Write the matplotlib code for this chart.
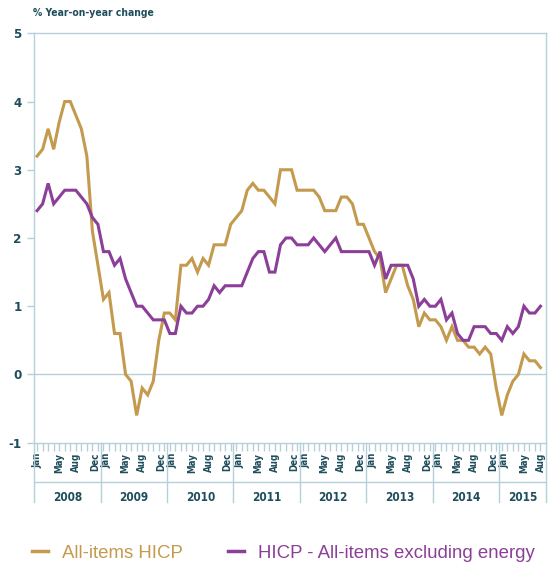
import matplotlib
matplotlib.use("Agg")
import matplotlib.pyplot as plt
import matplotlib.transforms as mtransforms
from matplotlib.lines import Line2D

# monthly data, Jan 2008 - Aug 2015
hicp_all = [
    3.2, 3.3, 3.6, 3.3, 3.7, 4.0, 4.0, 3.8, 3.6, 3.2, 2.1, 1.6,     # 2008
    1.1, 1.2, 0.6, 0.6, 0.0, -0.1, -0.6, -0.2, -0.3, -0.1, 0.5, 0.9,  # 2009
    0.9, 0.8, 1.6, 1.6, 1.7, 1.5, 1.7, 1.6, 1.9, 1.9, 1.9, 2.2,     # 2010
    2.3, 2.4, 2.7, 2.8, 2.7, 2.7, 2.6, 2.5, 3.0, 3.0, 3.0, 2.7,     # 2011
    2.7, 2.7, 2.7, 2.6, 2.4, 2.4, 2.4, 2.6, 2.6, 2.5, 2.2, 2.2,     # 2012
    2.0, 1.8, 1.7, 1.2, 1.4, 1.6, 1.6, 1.3, 1.1, 0.7, 0.9, 0.8,     # 2013
    0.8, 0.7, 0.5, 0.7, 0.5, 0.5, 0.4, 0.4, 0.3, 0.4, 0.3, -0.2,    # 2014
    -0.6, -0.3, -0.1, 0.0, 0.3, 0.2, 0.2, 0.1,                      # 2015
]
hicp_ex_energy = [
    2.4, 2.5, 2.8, 2.5, 2.6, 2.7, 2.7, 2.7, 2.6, 2.5, 2.3, 2.2,     # 2008
    1.8, 1.8, 1.6, 1.7, 1.4, 1.2, 1.0, 1.0, 0.9, 0.8, 0.8, 0.8,     # 2009
    0.6, 0.6, 1.0, 0.9, 0.9, 1.0, 1.0, 1.1, 1.3, 1.2, 1.3, 1.3,     # 2010
    1.3, 1.3, 1.5, 1.7, 1.8, 1.8, 1.5, 1.5, 1.9, 2.0, 2.0, 1.9,     # 2011
    1.9, 1.9, 2.0, 1.9, 1.8, 1.9, 2.0, 1.8, 1.8, 1.8, 1.8, 1.8,     # 2012
    1.8, 1.6, 1.8, 1.4, 1.6, 1.6, 1.6, 1.6, 1.4, 1.0, 1.1, 1.0,     # 2013
    1.0, 1.1, 0.8, 0.9, 0.6, 0.5, 0.5, 0.7, 0.7, 0.7, 0.6, 0.6,     # 2014
    0.5, 0.7, 0.6, 0.7, 1.0, 0.9, 0.9, 1.0,                         # 2015
]
years = ["2008", "2009", "2010", "2011", "2012", "2013", "2014", "2015"]
month_labels = {0: "Jan", 4: "May", 7: "Aug", 11: "Dec"}
series_names = ["All-items HICP", "HICP - All-items excluding energy"]

gold = "#C39A4E"
purple = "#8C3F98"
teal = "#1E4D5C"
axis_blue = "#B7CFD8"
cond = dict(family="DejaVu Sans", stretch="condensed", fontweight="bold", color=teal)

n = len(hicp_all)
x = list(range(n))

fig = plt.figure(figsize=(5.57, 5.65), dpi=100)
ax = fig.add_axes([0.0616, 0.2165, 0.9187, 0.7246])

ax.plot(x, hicp_all, color=gold, lw=2.2, solid_joinstyle="miter", zorder=3)
ax.plot(x, hicp_ex_energy, color=purple, lw=2.2, solid_joinstyle="miter", zorder=3)
ax.axhline(0, color=axis_blue, lw=1.0, zorder=1)

ax.set_xlim(-0.5, 92)
ax.set_ylim(-1, 5)

for s in ax.spines.values():
    s.set_color(axis_blue)
    s.set_linewidth(1.0)

# y axis
ax.set_yticks(range(-1, 6))
ax.set_yticklabels([str(v) for v in range(-1, 6)], fontsize=9.5, **cond)
ax.tick_params(axis="y", length=5, width=1, color=axis_blue, pad=4)

# x axis: month ticks and labels
ax.set_xticks(x, minor=True)
major_pos = [i for i in x if i % 12 in month_labels]
ax.set_xticks(major_pos)
ax.set_xticklabels([month_labels[i % 12] for i in major_pos], rotation=90,
                   fontsize=7, va="top", **cond)
ax.tick_params(axis="x", which="both", length=5.5, width=1, color=axis_blue,
               direction="out", pad=2)
# Dec and Jan sit next to each other: nudge them apart a little
for pos, lab in zip(major_pos, ax.get_xticklabels()):
    if pos % 12 == 11:
        lab.set_transform(lab.get_transform() + mtransforms.ScaledTranslation(-3 / 100, 0, fig.dpi_scale_trans))
    elif pos % 12 == 0 and pos > 0:
        lab.set_transform(lab.get_transform() + mtransforms.ScaledTranslation(3 / 100, 0, fig.dpi_scale_trans))

# year band below the month labels
trans = ax.get_xaxis_transform()
ax.plot([-0.5, 92], [-0.0954, -0.0954], color=axis_blue, lw=1.0,
        transform=trans, clip_on=False)
bounds = [-0.5 + 12 * k for k in range(len(years))] + [92]
for b in bounds:
    ax.plot([b, b], [0, -0.1444], color=axis_blue, lw=1.0, transform=trans, clip_on=False)
for k, yr in enumerate(years):
    mid = (bounds[k] + bounds[k + 1]) / 2
    ax.text(mid, -0.133, yr, transform=trans, ha="center", va="center",
            fontsize=8.5, **cond)

fig.text(0.059, 0.977, "% Year-on-year change", ha="left", va="center",
         fontsize=7.5, **cond)

handles = [Line2D([], [], color=gold, lw=2.5), Line2D([], [], color=purple, lw=2.5)]
leg = fig.legend(handles, series_names, loc="center left", bbox_to_anchor=(0.028, 0.021),
                 ncol=2, frameon=False, handlelength=0.86, handletextpad=0.75,
                 columnspacing=2.4, prop={"family": "Liberation Sans", "size": 13.4})
for txt, c in zip(leg.get_texts(), [gold, purple]):
    txt.set_color(c)

fig.savefig("out.png", dpi=100)
